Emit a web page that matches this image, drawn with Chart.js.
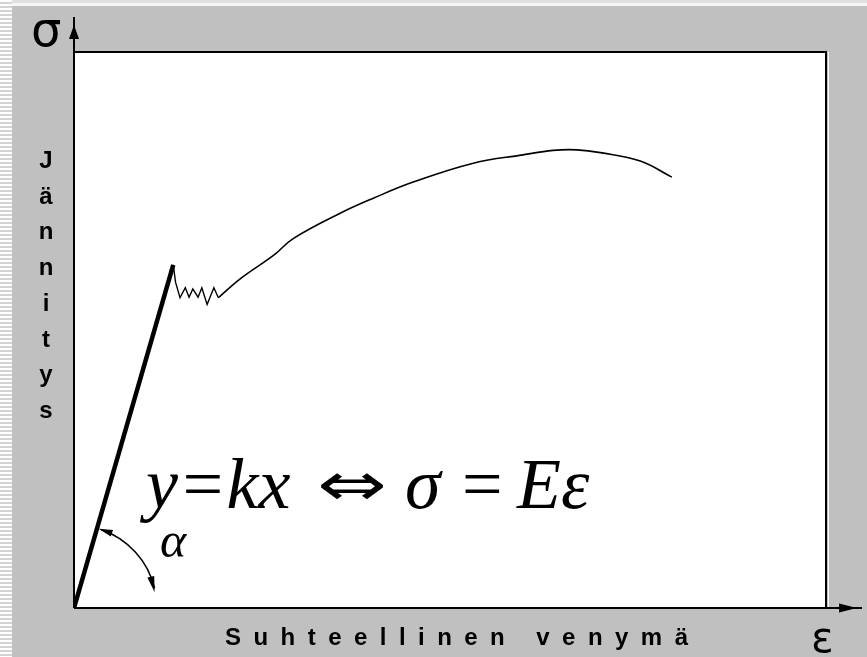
<!DOCTYPE html>
<html>
<head>
<meta charset="utf-8">
<script src="https://cdn.jsdelivr.net/npm/chart.js@4.4.1/dist/chart.umd.min.js"></script>
<style>
  html, body { margin: 0; padding: 0; background: #c0c0c0; }
  canvas { display: block; }
</style>
</head>
<body>
<canvas id="kaavio" width="867" height="657"></canvas>
<script>
// Vetokokeen jännitys-venymäkäyrä: kimmoinen osa, myötöalue ja lujittuminen
const kimmoX = [0, 13.2];
const kimmoY = [0, 61.7];
const myotoX = [13.2, 13.5, 14.1, 14.8, 15.3, 15.8, 16.5, 17.0, 17.7, 18.6, 19.2];
const myotoY = [61.7, 58.6, 55.8, 57.6, 55.9, 57.4, 55.9, 57.6, 54.6, 57.6, 55.8];
const lujX = [19.2, 22.1, 26.7, 29.1, 35.4, 39.8, 45.1, 53.1, 59.7, 63.7, 66.9, 70.0, 75.3, 79.5];
const lujY = [55.8, 59.2, 63.6, 66.4, 71.0, 73.7, 76.6, 80.0, 81.5, 82.3, 82.4, 81.9, 80.4, 77.5];

const otsikkoX = 'Suhteellinen venymä';
const otsikkoY = 'Jännitys';

const pisteet = (xs, ys) => xs.map((x, i) => ({ x: x, y: ys[i] }));

const TAUSTA = '#c0c0c0';
const labelFont = 'bold 24px "Liberation Sans", Arial, sans-serif';

function nuoli(ctx, x, y, dx, dy, pituus, leveys) {
    // kolmion kärki pisteessä (x, y), suunta (dx, dy)
    const l = Math.hypot(dx, dy);
    const ux = dx / l, uy = dy / l;
    const bx = x - ux * pituus, by = y - uy * pituus;
    ctx.beginPath();
    ctx.moveTo(x, y);
    ctx.lineTo(bx - uy * leveys, by + ux * leveys);
    ctx.lineTo(bx + uy * leveys, by - ux * leveys);
    ctx.closePath();
    ctx.fill();
}

const tausta = {
    id: 'tausta',
    beforeDraw(chart) {
        const ctx = chart.ctx;
        const a = chart.chartArea;
        ctx.save();
        ctx.fillStyle = TAUSTA;
        ctx.fillRect(0, 0, chart.width, chart.height);
        // yläreunan vaaleat raidat
        ctx.fillStyle = '#e0e0e0';
        ctx.fillRect(0, 0, chart.width, 3);
        ctx.fillStyle = '#f6f6f6';
        ctx.fillRect(0, 3, chart.width, 3);
        // vasemman reunan raidoitus
        for (let y = 0; y < chart.height; y += 4) {
            ctx.fillStyle = '#ffffff';
            ctx.fillRect(0, y, 12, 2);
            ctx.fillStyle = '#d4d4d4';
            ctx.fillRect(0, y + 2, 12, 2);
        }
        ctx.fillStyle = '#ffffff';
        ctx.fillRect(a.left, a.top, a.right - a.left, a.bottom - a.top);
        ctx.restore();
    }
};

const akselit = {
    id: 'akselit',
    afterDatasetsDraw(chart) {
        const ctx = chart.ctx;
        const a = chart.chartArea;
        const sx = chart.scales.x, sy = chart.scales.y;
        ctx.save();
        ctx.fillStyle = '#000';
        ctx.strokeStyle = '#000';

        // ylä- ja oikea reuna
        ctx.lineWidth = 2;
        ctx.beginPath();
        ctx.moveTo(a.left, a.top);
        ctx.lineTo(a.right, a.top);
        ctx.lineTo(a.right, a.bottom);
        ctx.stroke();
        ctx.strokeStyle = '#ffffff';
        ctx.lineWidth = 1;
        ctx.beginPath();
        ctx.moveTo(a.right + 2.5, a.top);
        ctx.lineTo(a.right + 2.5, a.bottom);
        ctx.stroke();

        // akselit nuolineen
        ctx.strokeStyle = '#000';
        ctx.lineWidth = 2;
        ctx.beginPath();
        ctx.moveTo(a.left, a.bottom);
        ctx.lineTo(a.left, 17);
        ctx.moveTo(a.left, a.bottom);
        ctx.lineTo(862, a.bottom);
        ctx.stroke();
        nuoli(ctx, a.left, 25, 0, -1, 14, 5);
        nuoli(ctx, 857, a.bottom, 1, 0, 18, 4.5);

        // akselisymbolit
        ctx.textBaseline = 'alphabetic';
        ctx.textAlign = 'left';
        ctx.font = '48px "DejaVu Sans", sans-serif';
        ctx.fillText('σ', 31, 46);
        ctx.font = '42px "DejaVu Sans", sans-serif';
        ctx.fillText('ε', 811, 652);

        // pystyakselin otsikko kirjain kerrallaan
        ctx.font = labelFont;
        ctx.textAlign = 'center';
        otsikkoY.split('').forEach((k, i) => {
            ctx.fillText(k, 46, 168 + i * 35.7);
        });

        // vaaka-akselin otsikko harvennettuna
        ctx.textAlign = 'left';
        const merkit = otsikkoX.split('');
        const leveydet = merkit.map(m => ctx.measureText(m).width);
        const summa = leveydet.reduce((s, w) => s + w, 0);
        const vali = (688 - 225 - summa) / (merkit.length - 1);
        let px = 225;
        merkit.forEach((m, i) => {
            ctx.fillText(m, px, 645);
            px += leveydet[i] + vali;
        });

        // kaava
        const perus = 508;
        ctx.font = 'italic 72px "Liberation Serif", "Times New Roman", serif';
        ctx.fillText('y=kx', 146, perus);
        ctx.fillText('σ', 405, perus);
        ctx.fillText('Eε', 517, perus);
        ctx.font = '72px "Liberation Serif", "Times New Roman", serif';
        ctx.fillText('=', 462, perus);
        ctx.save();
        ctx.font = '60px "DejaVu Sans", sans-serif';
        const wn = ctx.measureText('⇔').width;
        ctx.translate(317, 505);
        ctx.scale(70 / wn, 1);
        ctx.fillText('⇔', 0, 0);
        ctx.restore();

        // kulma alfa kimmoisen suoran ja vaaka-akselin välissä
        const ox = sx.getPixelForValue(0), oy = sy.getPixelForValue(0);
        const tx = sx.getPixelForValue(kimmoX[1]), ty = sy.getPixelForValue(kimmoY[1]);
        const suora = Math.atan2(ty - oy, tx - ox);
        const r = 83;
        const t0 = suora + 0.05, t1 = -0.24;
        ctx.lineWidth = 1.5;
        ctx.beginPath();
        ctx.arc(ox, oy, r, t0, t1, false);
        ctx.stroke();
        nuoli(ctx, ox + r * Math.cos(suora + 0.02), oy + r * Math.sin(suora + 0.02),
            Math.sin(t0), -Math.cos(t0), 14, 3.5);
        nuoli(ctx, ox + r * Math.cos(t1), oy + r * Math.sin(t1) + 4,
            -Math.sin(t1), Math.cos(t1), 16, 3.5);
        ctx.font = 'italic 50px "Liberation Serif", "Times New Roman", serif';
        ctx.fillText('α', 160, 557);

        ctx.restore();
    }
};

new Chart(document.getElementById('kaavio'), {
    type: 'line',
    data: {
        datasets: [
            {
                data: pisteet(kimmoX, kimmoY),
                borderColor: '#000',
                borderWidth: 4.5,
                pointRadius: 0,
                tension: 0
            },
            {
                data: pisteet(myotoX, myotoY),
                borderColor: '#000',
                borderWidth: 1.4,
                pointRadius: 0,
                tension: 0
            },
            {
                data: pisteet(lujX, lujY),
                borderColor: '#000',
                borderWidth: 1.6,
                pointRadius: 0,
                tension: 0.4
            }
        ]
    },
    options: {
        responsive: false,
        animation: false,
        layout: {
            padding: { left: 74, top: 52, right: 41, bottom: 49 }
        },
        scales: {
            x: { type: 'linear', min: 0, max: 100, display: false },
            y: { type: 'linear', min: 0, max: 100, display: false }
        },
        plugins: {
            legend: { display: false },
            tooltip: { enabled: false }
        }
    },
    plugins: [tausta, akselit]
});
</script>
</body>
</html>
